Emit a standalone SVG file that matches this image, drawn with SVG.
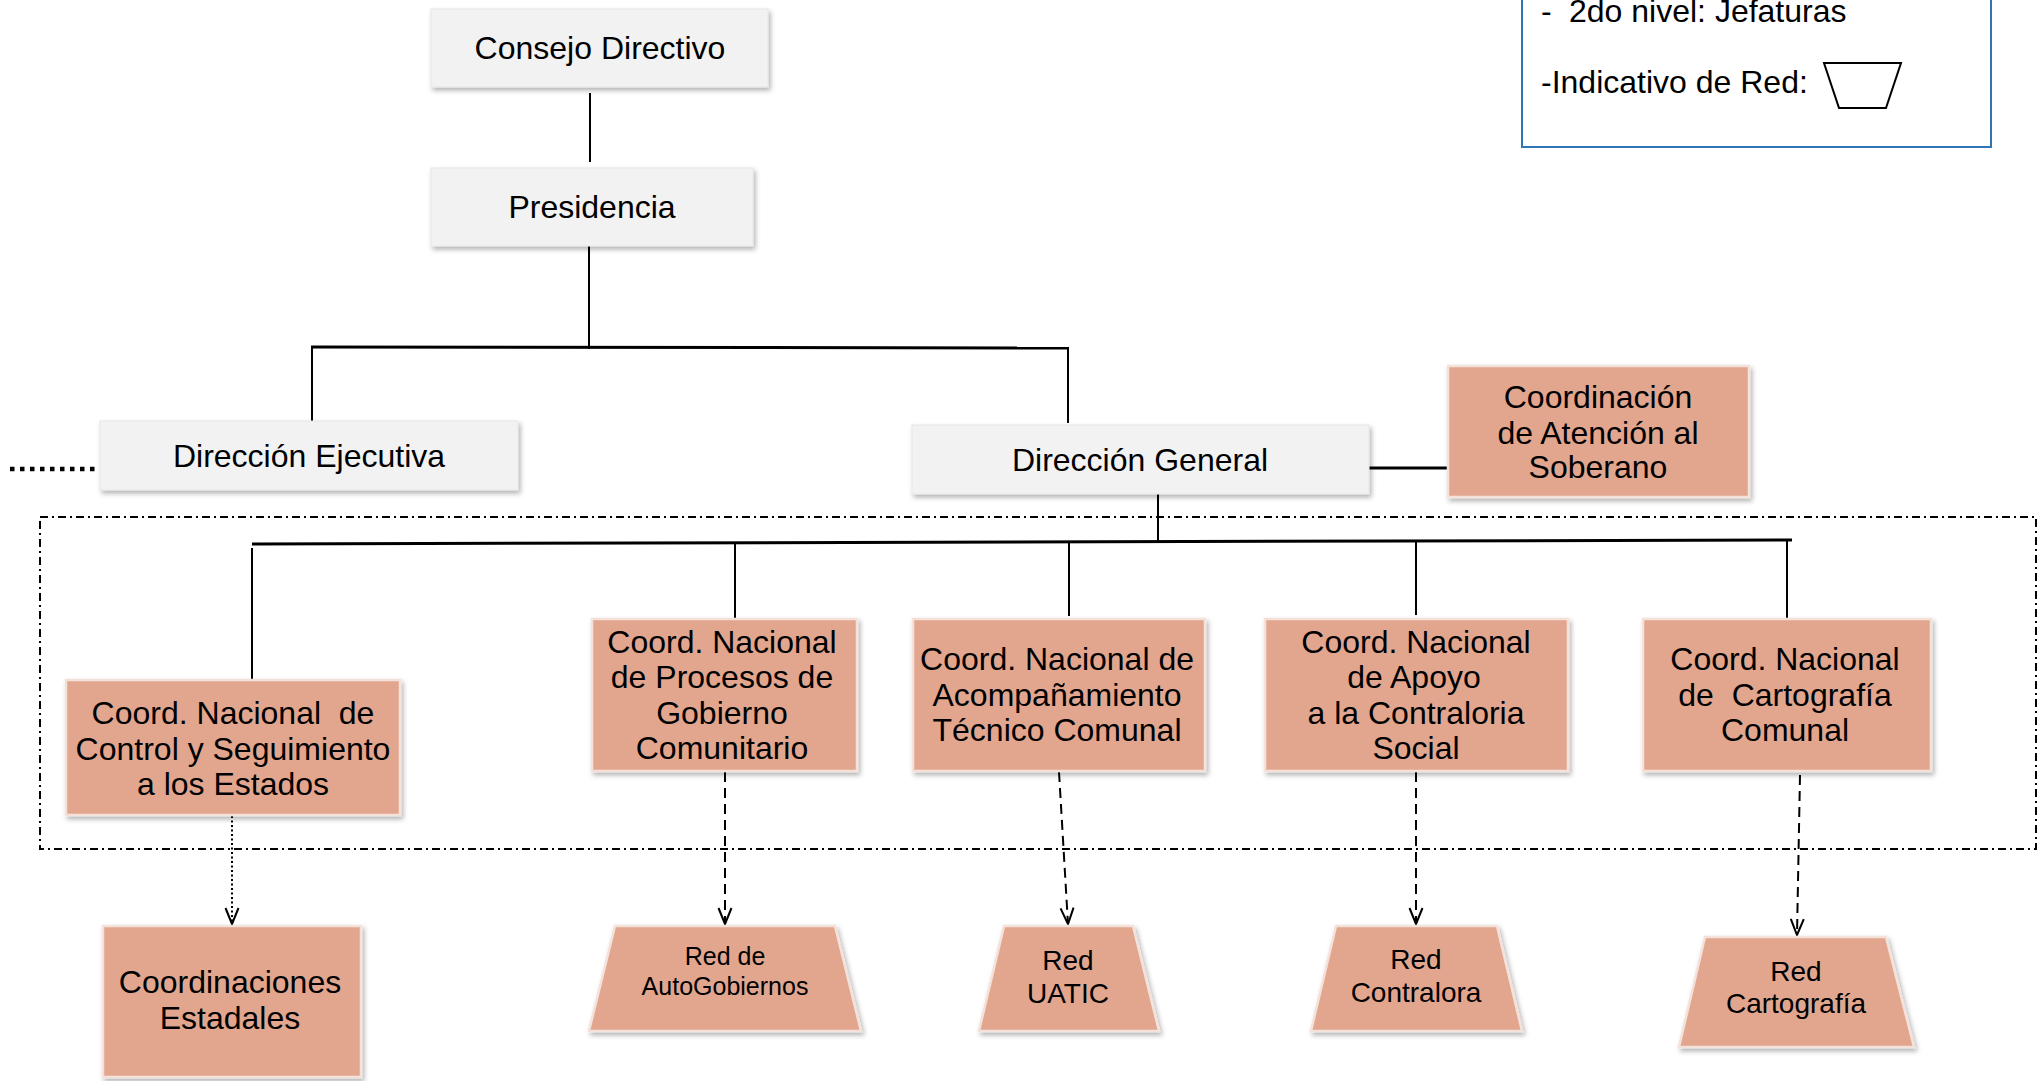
<svg xmlns="http://www.w3.org/2000/svg" width="2044" height="1081" viewBox="0 0 2044 1081">
<style>
  text { font-family: "Liberation Sans", Arial, sans-serif; fill: #000; text-anchor: middle; }
  .t32 { font-size: 32px; }
  .t28 { font-size: 28px; }
  .t26 { font-size: 25px; }
  .gray { fill: #F2F2F2; stroke: #E6E6E6; stroke-width: 1; filter: url(#sh); }
  .sal { fill: #E2A68F; stroke: #F4E2DA; stroke-width: 2.5; filter: url(#sh); }
  .ln { stroke: #000; stroke-width: 2; fill: none; }
  .bus { stroke: #000; stroke-width: 3; fill: none; }
  .dash { stroke: #000; stroke-width: 2; fill: none; stroke-dasharray: 10 6; marker-end: url(#arr); }
  .dot { stroke: #000; stroke-width: 2; fill: none; stroke-dasharray: 2 2.5; marker-end: url(#arr); }
</style>
<defs>
  <filter id="sh" x="-10%" y="-10%" width="125%" height="130%">
    <feDropShadow dx="2" dy="3" stdDeviation="2.5" flood-color="#000" flood-opacity="0.3"/>
  </filter>
  <marker id="arr" markerUnits="userSpaceOnUse" markerWidth="20" markerHeight="18" refX="17" refY="7.5" orient="auto" viewBox="0 0 20 18">
    <path d="M1,1 L17,7.5 L1,14" fill="none" stroke="#000" stroke-width="2"/>
  </marker>
</defs>
<rect width="2044" height="1081" fill="#fff"/>

<!-- legend -->
<g id="legend">
  <rect x="1522" y="-20" width="469" height="167" fill="#fff" stroke="#2E75B6" stroke-width="2"/>
  <text class="t32" style="text-anchor:start" y="22"><tspan x="1541">-</tspan><tspan x="1569">2do nivel: Jefaturas</tspan></text>
  <text class="t32" style="text-anchor:start" x="1541" y="93">-Indicativo de Red:</text>
  <polygon points="1824,63 1901,63 1886,108 1839,108" fill="#fff" stroke="#000" stroke-width="2"/>
</g>

<!-- frame -->
<rect id="frame" x="40" y="517" width="1996" height="332" fill="none" stroke="#000" stroke-width="2" stroke-dasharray="8 4 2 4"/>

<!-- connectors -->
<g id="connectors">
  <line class="ln" x1="590" y1="93" x2="590" y2="162"/>
  <line class="ln" x1="589" y1="246" x2="589" y2="349"/>
  <line class="bus" x1="311" y1="347" x2="1069" y2="348"/>
  <line class="ln" x1="312" y1="347" x2="312" y2="421"/>
  <line class="ln" x1="1068" y1="348" x2="1068" y2="423"/>
  <line stroke="#000" stroke-width="4.5" stroke-dasharray="4.5 5.5" x1="10" y1="469" x2="100" y2="469"/>
  <line class="bus" x1="1369" y1="468" x2="1448" y2="468"/>
  <line class="ln" x1="1158" y1="494" x2="1158" y2="542"/>
  <line class="bus" x1="252" y1="544" x2="1792" y2="540"/>
  <line class="ln" x1="252" y1="548" x2="252" y2="680"/>
  <line class="ln" x1="735" y1="543" x2="735" y2="619"/>
  <line class="ln" x1="1069" y1="542" x2="1069" y2="616"/>
  <line class="ln" x1="1416" y1="541" x2="1416" y2="615"/>
  <line class="ln" x1="1787" y1="541" x2="1787" y2="619"/>
  <line class="dot" x1="232" y1="816" x2="232" y2="924"/>
  <line class="dash" x1="725" y1="772" x2="725" y2="924"/>
  <line class="dash" x1="1059" y1="772" x2="1068" y2="924"/>
  <line class="dash" x1="1416" y1="772" x2="1416" y2="924"/>
  <line class="dash" x1="1800" y1="775" x2="1797" y2="935"/>
</g>

<!-- nodes -->
<g id="consejo">
  <rect class="gray" x="431" y="9" width="337" height="78"/>
  <text class="t32" x="600" y="59">Consejo Directivo</text>
</g>
<g id="presidencia">
  <rect class="gray" x="431" y="168" width="322" height="78"/>
  <text class="t32" x="592" y="218">Presidencia</text>
</g>
<g id="dir-ejecutiva">
  <rect class="gray" x="100" y="421" width="418" height="69"/>
  <text class="t32" x="309" y="467">Dirección Ejecutiva</text>
</g>
<g id="dir-general">
  <rect class="gray" x="912" y="425" width="457" height="69"/>
  <text class="t32" x="1140" y="471">Dirección General</text>
</g>
<g id="coord-atencion">
  <rect class="sal" x="1448" y="366" width="301" height="131"/>
  <text class="t32" x="1598" y="408">Coordinación</text>
  <text class="t32" x="1598" y="444">de Atención al</text>
  <text class="t32" x="1598" y="478">Soberano</text>
</g>
<g id="coord-control">
  <rect class="sal" x="66" y="680" width="334" height="135"/>
  <text class="t32" x="233" y="724" xml:space="preserve">Coord. Nacional  de</text>
  <text class="t32" x="233" y="760">Control y Seguimiento</text>
  <text class="t32" x="233" y="795">a los Estados</text>
</g>
<g id="coord-procesos">
  <rect class="sal" x="592" y="619" width="265" height="152"/>
  <text class="t32" x="722" y="653">Coord. Nacional</text>
  <text class="t32" x="722" y="688">de Procesos de</text>
  <text class="t32" x="722" y="724">Gobierno</text>
  <text class="t32" x="722" y="759">Comunitario</text>
</g>
<g id="coord-acompanamiento">
  <rect class="sal" x="913" y="619" width="292" height="152"/>
  <text class="t32" x="1057" y="670">Coord. Nacional de</text>
  <text class="t32" x="1057" y="706">Acompañamiento</text>
  <text class="t32" x="1057" y="741">Técnico Comunal</text>
</g>
<g id="coord-apoyo">
  <rect class="sal" x="1265" y="619" width="303" height="152"/>
  <text class="t32" x="1416" y="653">Coord. Nacional</text>
  <text class="t32" x="1414" y="688">de Apoyo</text>
  <text class="t32" x="1416" y="724">a la Contraloria</text>
  <text class="t32" x="1416" y="759">Social</text>
</g>
<g id="coord-cartografia">
  <rect class="sal" x="1643" y="619" width="288" height="152"/>
  <text class="t32" x="1785" y="670">Coord. Nacional</text>
  <text class="t32" x="1785" y="706" xml:space="preserve">de  Cartografía</text>
  <text class="t32" x="1785" y="741">Comunal</text>
</g>
<g id="coord-estadales">
  <rect class="sal" x="103" y="926" width="258" height="151"/>
  <text class="t32" x="230" y="993">Coordinaciones</text>
  <text class="t32" x="230" y="1029">Estadales</text>
</g>
<g id="red-autogobiernos">
  <polygon class="sal" points="615,926 835,926 861,1031 589,1031"/>
  <text class="t26" x="725" y="965">Red de</text>
  <text class="t26" x="725" y="995">AutoGobiernos</text>
</g>
<g id="red-uatic">
  <polygon class="sal" points="1004,926 1133,926 1159,1031 979,1031"/>
  <text class="t28" x="1068" y="970">Red</text>
  <text class="t28" x="1068" y="1003">UATIC</text>
</g>
<g id="red-contralora">
  <polygon class="sal" points="1336,926 1497,926 1522,1031 1311,1031"/>
  <text class="t28" x="1416" y="969">Red</text>
  <text class="t28" x="1416" y="1002">Contralora</text>
</g>
<g id="red-cartografia">
  <polygon class="sal" points="1705,937 1886,937 1914,1047 1679,1047"/>
  <text class="t28" x="1796" y="981">Red</text>
  <text class="t28" x="1796" y="1013">Cartografía</text>
</g>
</svg>
